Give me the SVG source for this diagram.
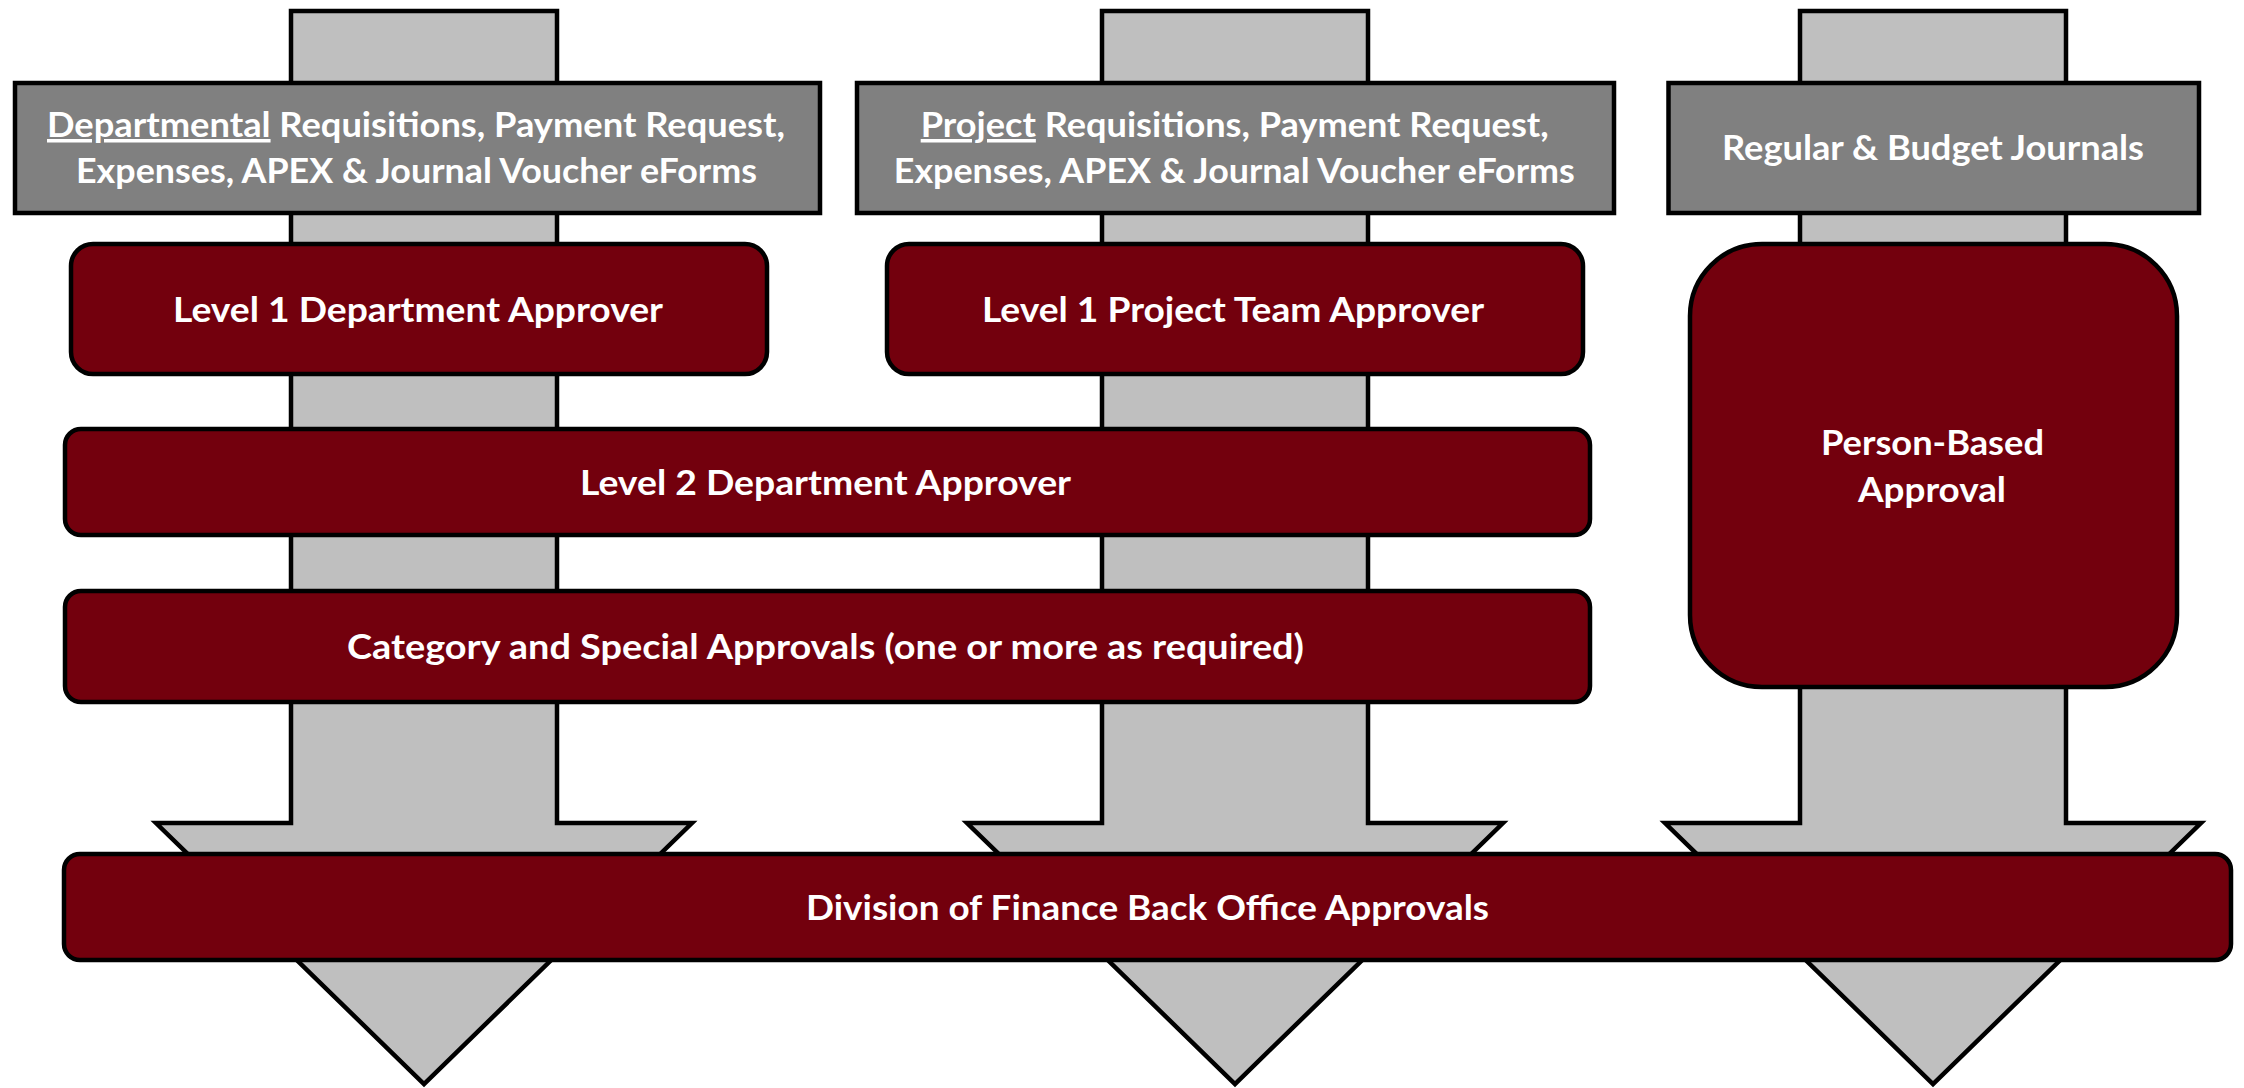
<svg xmlns="http://www.w3.org/2000/svg" width="2244" height="1088" viewBox="0 0 2244 1088">
<style>
.arrow{fill:#bfbfbf;stroke:#000;stroke-width:4.5;stroke-linejoin:miter}
.hdr{fill:#808080;stroke:#000;stroke-width:4.5}
.red{fill:#73000d;stroke:#000;stroke-width:4.5}
text{font-family:Lato,"Open Sans","Liberation Sans",sans-serif;font-weight:bold;font-size:35px;fill:#fff;text-anchor:middle}
</style>
<rect width="2244" height="1088" fill="#fff"/>
<g id="connectors">
<polygon class="arrow" points="291,11 557,11 557,823 692,823 424,1084 156,823 291,823"/>
<polygon class="arrow" points="1102,11 1368,11 1368,823 1503,823 1235,1084 967,823 1102,823"/>
<polygon class="arrow" points="1800,11 2066,11 2066,823 2201,823 1933,1084 1665,823 1800,823"/>
</g>
<g id="hdr-departmental">
<rect class="hdr" x="15" y="83" width="805" height="130"/>
<text x="416" y="137" textLength="738" lengthAdjust="spacingAndGlyphs"><tspan text-decoration="underline">Departmental</tspan> Requisitions, Payment Request,</text>
<text x="416.5" y="183" textLength="681" lengthAdjust="spacingAndGlyphs">Expenses, APEX &amp; Journal Voucher eForms</text>
</g>
<g id="hdr-project">
<rect class="hdr" x="857" y="83" width="757" height="130"/>
<text x="1234.7" y="137" textLength="628" lengthAdjust="spacingAndGlyphs"><tspan text-decoration="underline">Project</tspan> Requisitions, Payment Request,</text>
<text x="1234.3" y="183" textLength="681" lengthAdjust="spacingAndGlyphs">Expenses, APEX &amp; Journal Voucher eForms</text>
</g>
<g id="hdr-journals">
<rect class="hdr" x="1668.5" y="83" width="530.5" height="130"/>
<text x="1933" y="160" textLength="422" lengthAdjust="spacingAndGlyphs">Regular &amp; Budget Journals</text>
</g>
<g id="level1-dept">
<rect class="red" x="71" y="244" width="696" height="130" rx="22"/>
<text x="418" y="322" textLength="490" lengthAdjust="spacingAndGlyphs">Level 1 Department Approver</text>
</g>
<g id="level1-project">
<rect class="red" x="887" y="244" width="696" height="130" rx="22"/>
<text x="1233" y="322" textLength="502" lengthAdjust="spacingAndGlyphs">Level 1 Project Team Approver</text>
</g>
<g id="person-based">
<rect class="red" x="1690" y="244" width="487" height="443" rx="72"/>
<text x="1932.5" y="455" textLength="223" lengthAdjust="spacingAndGlyphs">Person-Based</text>
<text x="1932" y="502" textLength="148" lengthAdjust="spacingAndGlyphs">Approval</text>
</g>
<g id="level2-dept">
<rect class="red" x="65" y="429" width="1525" height="106" rx="16"/>
<text x="825.5" y="495" textLength="491" lengthAdjust="spacingAndGlyphs">Level 2 Department Approver</text>
</g>
<g id="category-special">
<rect class="red" x="65" y="591" width="1525" height="111" rx="16"/>
<text x="825.5" y="659" textLength="957" lengthAdjust="spacingAndGlyphs">Category and Special Approvals (one or more as required)</text>
</g>
<g id="division-finance">
<rect class="red" x="64" y="854" width="2167" height="106" rx="16"/>
<text x="1147.5" y="920" textLength="683" lengthAdjust="spacingAndGlyphs">Division of Finance Back Office Approvals</text>
</g>
</svg>
